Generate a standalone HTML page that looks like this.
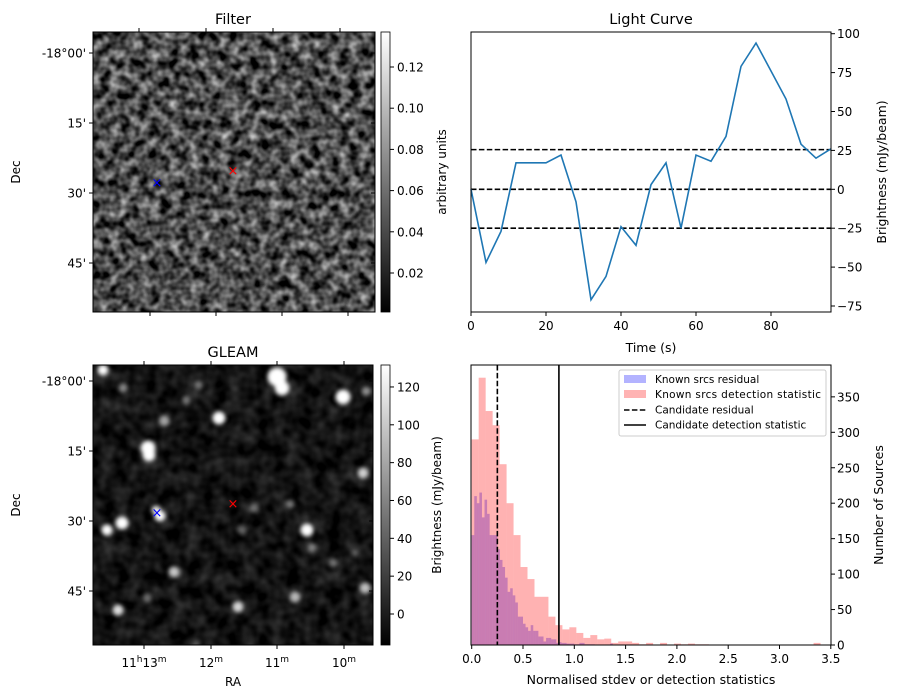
<!DOCTYPE html>
<html><head><meta charset="utf-8">
<style>
body{margin:0;background:#fff;}
svg{display:block;font-family:"DejaVu Sans","Liberation Sans",sans-serif;}
</style></head>
<body>
<svg id="fig" width="899" height="699" viewBox="0 0 899 699" xmlns="http://www.w3.org/2000/svg">
<defs>
<filter id="noise" x="0" y="0" width="100%" height="100%" color-interpolation-filters="sRGB">
<feTurbulence type="fractalNoise" baseFrequency="0.1" numOctaves="2" seed="7"/>
<feColorMatrix type="matrix" values="1.25 0 0 0 -0.33  1.25 0 0 0 -0.33  1.25 0 0 0 -0.33  0 0 0 0 1"/>
</filter>
<filter id="noise2" x="0" y="0" width="100%" height="100%" color-interpolation-filters="sRGB">
<feTurbulence type="fractalNoise" baseFrequency="0.07" numOctaves="2" seed="3"/>
<feColorMatrix type="matrix" values="0.35 0 0 0 -0.1  0.35 0 0 0 -0.1  0.35 0 0 0 -0.1  0 0 0 0 1"/>
</filter>
<filter id="blur" color-interpolation-filters="sRGB"><feGaussianBlur stdDeviation="2"/></filter>
<linearGradient id="cb" x1="0" y1="1" x2="0" y2="0"><stop offset="0" stop-color="#000"/><stop offset="1" stop-color="#fff"/></linearGradient>
<clipPath id="clipG"><rect x="93" y="365" width="280" height="280"/></clipPath>
</defs>

<g>
<text x="233" y="24" font-size="14.5" text-anchor="middle">Filter</text>
<rect x="93" y="32" width="282" height="280" fill="#444" filter="url(#noise)"/>
<rect x="93" y="32" width="282" height="280" fill="none" stroke="#000" stroke-width="1"/>
<text x="157" y="187" font-size="13" fill="#00f" text-anchor="middle">×</text>
<text x="233" y="175" font-size="13" fill="#f00" text-anchor="middle">×</text>
<g id="filterTicks"></g>
<text x="20" y="172" font-size="12" text-anchor="middle" transform="rotate(-90 20 172)">Dec</text>
<rect x="381" y="32" width="9" height="280" fill="url(#cb)" stroke="#000" stroke-width="0.8"/>
<g id="filterCb"></g>
<text x="446" y="172" font-size="12" text-anchor="middle" transform="rotate(-90 446 172)">arbitrary units</text>
</g>

<g>
<text x="233" y="357" font-size="14.5" text-anchor="middle">GLEAM</text>
<rect x="93" y="365" width="280" height="280" fill="#111" filter="url(#noise2)"/>
<g id="blobs" clip-path="url(#clipG)" filter="url(#blur)"></g>
<rect x="93" y="365" width="280" height="280" fill="none" stroke="#000" stroke-width="1"/>
<text x="157" y="517" font-size="13" fill="#00f" text-anchor="middle">×</text>
<text x="233" y="508" font-size="13" fill="#f00" text-anchor="middle">×</text>
<g id="gleamTicks"></g>
<text x="20" y="505" font-size="12" text-anchor="middle" transform="rotate(-90 20 505)">Dec</text>
<text x="233" y="686" font-size="12" text-anchor="middle">RA</text>
<rect x="381" y="365" width="9" height="280" fill="url(#cb)" stroke="#000" stroke-width="0.8"/>
<g id="gleamCb"></g>
<text x="441" y="505" font-size="12" text-anchor="middle" transform="rotate(-90 441 505)">Brightness (mJy/beam)</text>
</g>

<g>
<text x="651" y="24" font-size="14.5" text-anchor="middle">Light Curve</text>
<g id="lc"></g>
<rect x="471" y="32" width="360" height="280" fill="none" stroke="#000" stroke-width="1"/>
<text x="651" y="352" font-size="12.5" text-anchor="middle">Time (s)</text>
<text x="886" y="172" font-size="12.5" text-anchor="middle" transform="rotate(-90 886 172)">Brightness (mJy/beam)</text>
</g>

<g>
<g id="hist"></g>
<rect x="471" y="365" width="360" height="280" fill="none" stroke="#000" stroke-width="1"/>
<text x="651" y="684" font-size="12.5" text-anchor="middle">Normalised stdev or detection statistics</text>
<text x="883" y="505" font-size="12.5" text-anchor="middle" transform="rotate(-90 883 505)">Number of Sources</text>
<g>
<rect x="619" y="370" width="207" height="66" fill="#fff" fill-opacity="0.85" stroke="#ccc" rx="2"/>
<rect x="624" y="375" width="22" height="8" fill="#b3b3ff"/>
<text x="655" y="383" font-size="10.5">Known srcs residual</text>
<rect x="624" y="390" width="22" height="8" fill="#ffb3b3"/>
<text x="655" y="398" font-size="10.5" textLength="166">Known srcs detection statistic</text>
<line x1="624" y1="410" x2="646" y2="410" stroke="#000" stroke-width="1.6" stroke-dasharray="5.5,2.4"/>
<text x="655" y="413.5" font-size="10.5">Candidate residual</text>
<line x1="624" y1="425" x2="646" y2="425" stroke="#000" stroke-width="1.6"/>
<text x="655" y="428.5" font-size="10.5">Candidate detection statistic</text>
</g>
</g>
</svg>
<script>
const lcTimes = [0,4,8,12,16,20,24,28,32,36,40,44,48,52,56,60,64,68,72,76,80,84,88,92,96];
const lcValues = [0,-47,-27,17,17,17,22,-8,-71,-56,-24,-36,3,17,-25,22,18,34,79,94,76,58,29,20,26];
const lcThresholds = [25.5,0,-25];
const lcXTicks = [0,20,40,60,80];
const lcYTicks = [100,75,50,25,0,-25,-50,-75];

const redBinWidth = 0.068;
const redCounts = [290,377,330,310,255,200,155,110,93,68,68,40,28,22,25,17,10,14,8,9,3,5,5,3,1,3,0,3,0,2,1,2,1,1,0,0,0,0,0,0,0,0,0,0,0,0,0,0,0,3];
const blueBinWidth = 0.025;
const blueCounts = [155,210,200,215,180,205,185,155,155,155,135,120,110,95,75,80,70,60,40,40,30,25,20,28,20,20,12,12,5,10,10,8,8,3,4,3,3,2,2,2,1,1,3,3,1,1,1,1,0,0,0,0,0,0,2];
const candidateResidual = 0.25;
const candidateDetection = 0.85;
const histXTicks = [0,0.5,1.0,1.5,2.0,2.5,3.0,3.5];
const histYTicks = [0,50,100,150,200,250,300,350];

const decLabels = ["-18°00'","15'","30'","45'"];
const raLabels = ["11h13m","12m","11m","10m"];
const filterCbTicks = [0.02,0.04,0.06,0.08,0.10,0.12];
const gleamCbTicks = [0,20,40,60,80,100,120];
const blobs = [[103,370,5,1],[123,388,4,0.45],[277,377,9,1],[282,388,7,1],[343,397,7,1],[366,391,4,0.5],[199,385,4,0.4],[186,400,4,0.4],[219,418,6,1],[164,421,5,0.6],[148,448,7,1],[149,455,6,1],[363,473,5,0.8],[290,504,4,0.45],[254,508,4,0.35],[160,516,5,1],[156,510,4,0.9],[122,523,6,1],[107,530,5,1],[307,530,6,1],[242,530,4,0.35],[312,548,4,0.4],[333,563,4,0.4],[355,553,3,0.35],[174,572,5,0.75],[365,588,5,0.7],[295,597,5,0.7],[238,607,5,0.8],[118,610,5,0.85],[147,598,4,0.35],[196,645,4,0.3]];

const NS="http://www.w3.org/2000/svg";
const TF=12;
function mk(tag,attrs,parent){const e=document.createElementNS(NS,tag);for(const k in attrs)e.setAttribute(k,attrs[k]);parent.appendChild(e);return e;}

const lc=document.getElementById('lc');
const lx=t=>471+t*3.75, ly=v=>189.3-v*1.556;
lcThresholds.forEach(v=>{const l=mk('line',{x1:471,x2:831,y1:ly(v),y2:ly(v),stroke:'#000','stroke-width':1.6,'stroke-dasharray':'5.5,2.4'},lc);

});
const pl=mk('polyline',{points:lcTimes.map((t,i)=>lx(t)+','+ly(lcValues[i])).join(' '),fill:'none',stroke:'#1f77b4','stroke-width':1.6},lc);


lcXTicks.forEach(t=>{mk('line',{x1:lx(t),x2:lx(t),y1:312,y2:316,stroke:'#000'},lc);const tx=mk('text',{x:lx(t),y:330,'font-size':TF,'text-anchor':'middle'},lc);tx.textContent=t;

});
lcYTicks.forEach(v=>{mk('line',{x1:831,x2:835,y1:ly(v),y2:ly(v),stroke:'#000'},lc);const tx=mk('text',{x:837,y:ly(v)+4.5,'font-size':TF},lc);tx.textContent=v<0?'\u2212'+(-v):v;

});

const h=document.getElementById('hist');
const hx=v=>471.7+v*102.6, hy=c=>645-c*0.709;
blueCounts.forEach((c,i)=>{if(!c)return;const r=mk('rect',{x:hx(i*blueBinWidth),y:hy(c),width:blueBinWidth*102.6,height:c*0.709,fill:'#0000ff','fill-opacity':0.3},h);

});
redCounts.forEach((c,i)=>{if(!c)return;const r=mk('rect',{x:hx(i*redBinWidth),y:hy(c),width:redBinWidth*102.6,height:c*0.709,fill:'#ff0000','fill-opacity':0.3},h);

});
const cr=mk('line',{x1:hx(candidateResidual),x2:hx(candidateResidual),y1:365,y2:645,stroke:'#000','stroke-width':1.6,'stroke-dasharray':'5.5,2.4'},h);


const cd=mk('line',{x1:hx(candidateDetection),x2:hx(candidateDetection),y1:365,y2:645,stroke:'#000','stroke-width':1.6},h);


histXTicks.forEach(v=>{mk('line',{x1:hx(v),x2:hx(v),y1:645,y2:649,stroke:'#000'},h);const tx=mk('text',{x:hx(v),y:663,'font-size':TF,'text-anchor':'middle'},h);tx.textContent=v.toFixed(1);

});
histYTicks.forEach(v=>{mk('line',{x1:831,x2:835,y1:hy(v),y2:hy(v),stroke:'#000'},h);const tx=mk('text',{x:837,y:hy(v)+4.5,'font-size':TF},h);tx.textContent=v;

});

function imgTicks(g,top,decY,raTop,raBot,showRA,right){
  decLabels.forEach((l,i)=>{const y=decY[i];mk('line',{x1:93,x2:89,y1:y,y2:y,stroke:'#000'},g);mk('line',{x1:right,x2:right-4,y1:y,y2:y,stroke:'#000'},g);
    const t=mk('text',{x:86,y:y+4.5,'font-size':TF,'text-anchor':'end'},g);t.textContent=l;
    
    });
  raTop.forEach(x=>{mk('line',{x1:x,x2:x,y1:top,y2:top-4,stroke:'#000'},g);});
  raBot.forEach((x,i)=>{mk('line',{x1:x,x2:x,y1:top+280,y2:top+284,stroke:'#000'},g);
    if(showRA){const t=mk('text',{x:x,y:top+302,'font-size':TF,'text-anchor':'middle'},g);
      const m=raLabels[i].match(/^(\d+)h(\d+)m$/);
      if(m){t.innerHTML=m[1]+'<tspan dy="-5" font-size="9">h</tspan><tspan dy="5">'+m[2]+'</tspan><tspan dy="-5" font-size="9">m</tspan>';}
      else{t.innerHTML=raLabels[i].replace('m','')+'<tspan dy="-5" font-size="9">m</tspan>';}
      
      }});
}
imgTicks(document.getElementById('filterTicks'),32,[53,123,193,263],[139,206,273,340],[150,216,282,348],false,375);
imgTicks(document.getElementById('gleamTicks'),365,[381,451,521,591],[144,211,277,344],[144,211,277,344],true,373);

function cbTicks(g,vals,pos,fmt){vals.forEach((v,i)=>{const y=pos(v);mk('line',{x1:390,x2:394,y1:y,y2:y,stroke:'#000'},g);
  const t=mk('text',{x:397,y:y+4.5,'font-size':TF},g);t.textContent=fmt(v);
  
  });}
cbTicks(document.getElementById('filterCb'),filterCbTicks,v=>273-(v-0.02)*2060,v=>v.toFixed(2));
cbTicks(document.getElementById('gleamCb'),gleamCbTicks,v=>614-v*1.892,v=>v);

const bg=document.getElementById('blobs');
blobs.forEach(b=>{const c=mk('circle',{cx:b[0],cy:b[1],r:b[2]+0.5,fill:'#fff','fill-opacity':b[3]},bg);

});
</script>
</body></html>
